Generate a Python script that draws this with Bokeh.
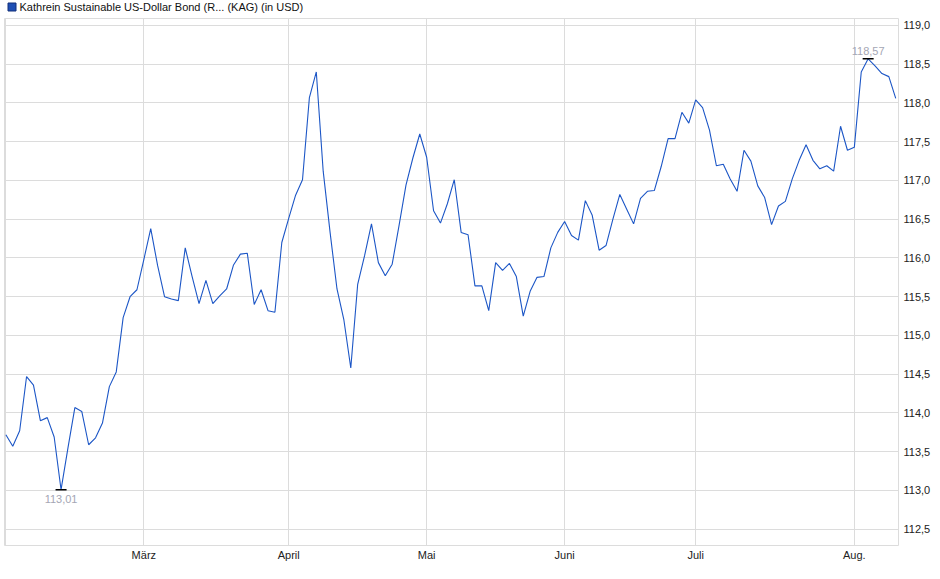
import numpy as np
from bokeh.plotting import figure
from bokeh.layouts import column
from bokeh.models import FixedTicker, Range1d, ColumnDataSource
from bokeh.core.properties import value
from bokeh.embed import file_html
from bokeh.resources import INLINE

series_name = "Kathrein Sustainable US-Dollar Bond (R... (KAG) (in USD)"

prices = [
    113.72, 113.57, 113.77, 114.47, 114.36, 113.90, 113.94, 113.69, 113.01, 113.55,
    114.07, 114.02, 113.59, 113.68, 113.87, 114.34, 114.53, 115.23, 115.50, 115.59,
    115.98, 116.38, 115.90, 115.50, 115.47, 115.45, 116.13, 115.76, 115.41, 115.71,
    115.41, 115.51, 115.60, 115.91, 116.05, 116.06, 115.40, 115.59, 115.32, 115.30,
    116.20, 116.51, 116.81, 117.01, 118.07, 118.40, 117.12, 116.33, 115.60, 115.20,
    114.58, 115.66, 116.03, 116.44, 115.94, 115.77, 115.92, 116.42, 116.94, 117.29,
    117.60, 117.30, 116.61, 116.45, 116.70, 117.01, 116.33, 116.30, 115.64, 115.64,
    115.32, 115.94, 115.84, 115.93, 115.76, 115.25, 115.57, 115.75, 115.76, 116.13,
    116.33, 116.47, 116.29, 116.23, 116.74, 116.55, 116.10, 116.16, 116.50, 116.82,
    116.63, 116.44, 116.77, 116.86, 116.87, 117.18, 117.54, 117.54, 117.88, 117.74,
    118.04, 117.94, 117.65, 117.19, 117.21, 117.02, 116.86, 117.39, 117.25, 116.93,
    116.78, 116.43, 116.67, 116.73, 117.02, 117.26, 117.46, 117.26, 117.15, 117.19,
    117.12, 117.70, 117.39, 117.43, 118.40, 118.57, 118.48, 118.38, 118.34, 118.06,
]

month_tick_index = [0, 20, 41, 61, 81, 100, 123]
month_tick_labels = ["", "März", "April", "Mai", "Juni", "Juli", "Aug."]

y_ticks = [112.5, 113.0, 113.5, 114.0, 114.5, 115.0, 115.5, 116.0, 116.5, 117.0, 117.5, 118.0, 118.5, 119.0]
y_tick_labels = ["112,5", "113,0", "113,5", "114,0", "114,5", "115,0", "115,5",
                 "116,0", "116,5", "117,0", "117,5", "118,0", "118,5", "119,0"]

FONT = "Liberation Sans"
LINE_COLOR = "#1c56c6"
GRID = "#dcdcdc"
FRAME_W = 894
FRAME_H = 527
HEAD_W = 930
HEAD_H = 18

idx = np.arange(len(prices))
vals = np.array(prices)

# ---- header with legend swatch and series name ----
head = figure(
    frame_width=HEAD_W, frame_height=HEAD_H,
    x_range=Range1d(0, HEAD_W), y_range=Range1d(0, HEAD_H),
    x_axis_type=None, y_axis_type=None,
    output_backend="svg", toolbar_location=None,
    min_border_left=0, min_border_right=0, min_border_top=0, min_border_bottom=0,
)
head.outline_line_color = None
head.xgrid.visible = False
head.ygrid.visible = False
head.rect(x=[7.5], y=[HEAD_H - 6.5], width=8, height=8, width_units="screen", height_units="screen",
          fill_color="#1f4fb4", line_color="#12307a", line_width=1)
head.text(x=[15], y=[HEAD_H - 6.5], text=[series_name], text_baseline="middle", text_align="left",
          text_font=value(FONT), text_font_size="11px", text_color="#111111")

# ---- main chart ----
p = figure(
    frame_width=FRAME_W, frame_height=FRAME_H,
    x_range=Range1d(-0.2, 129.4), y_range=Range1d(112.29, 119.09),
    y_axis_location="right",
    output_backend="svg", toolbar_location=None,
    min_border_left=4, min_border_top=0, min_border_bottom=0, min_border_right=0,
)
p.background_fill_color = "white"
p.border_fill_color = "white"
p.outline_line_color = GRID
p.outline_line_width = 1

p.xgrid.grid_line_color = GRID
p.ygrid.grid_line_color = GRID

p.xaxis.ticker = FixedTicker(ticks=month_tick_index)
p.xaxis.major_label_overrides = {t: l for t, l in zip(month_tick_index, month_tick_labels)}
p.yaxis.ticker = FixedTicker(ticks=y_ticks)
p.yaxis.major_label_overrides = {t: l for t, l in zip(y_ticks, y_tick_labels)}

for ax in (p.xaxis[0], p.yaxis[0]):
    ax.axis_line_color = None
    ax.major_tick_line_color = None
    ax.minor_tick_line_color = None
    ax.major_tick_out = 0
    ax.major_tick_in = 0
    ax.major_label_text_font = FONT
    ax.major_label_text_font_size = "11px"
    ax.major_label_text_color = "#222222"
p.xaxis.major_label_standoff = 3
p.yaxis.major_label_standoff = 5

src = ColumnDataSource(dict(x=idx, y=vals))
p.line("x", "y", source=src, line_color=LINE_COLOR, line_width=1.1)

# min / max annotations
i_min = int(np.argmin(vals))
i_max = int(np.argmax(vals))
ext = ColumnDataSource(dict(x=[i_min, i_max], y=[vals[i_min], vals[i_max]]))
p.scatter("x", "y", source=ext, marker="dash", size=11, line_color="black", line_width=1.5)

def fmt(v):
    return f"{v:.2f}".replace(".", ",")

p.text(x=[i_min], y=[vals[i_min]], text=[fmt(vals[i_min])], text_align="center",
       text_baseline="top", y_offset=5, text_font=value(FONT), text_font_size="11px",
       text_color="#a4a6b4")
p.text(x=[i_max], y=[vals[i_max]], text=[fmt(vals[i_max])], text_align="center",
       text_baseline="bottom", y_offset=-4, text_font=value(FONT), text_font_size="11px",
       text_color="#a4a6b4")

layout = column(head, p, spacing=0)
open("out.html", "w").write(file_html(layout, INLINE))
